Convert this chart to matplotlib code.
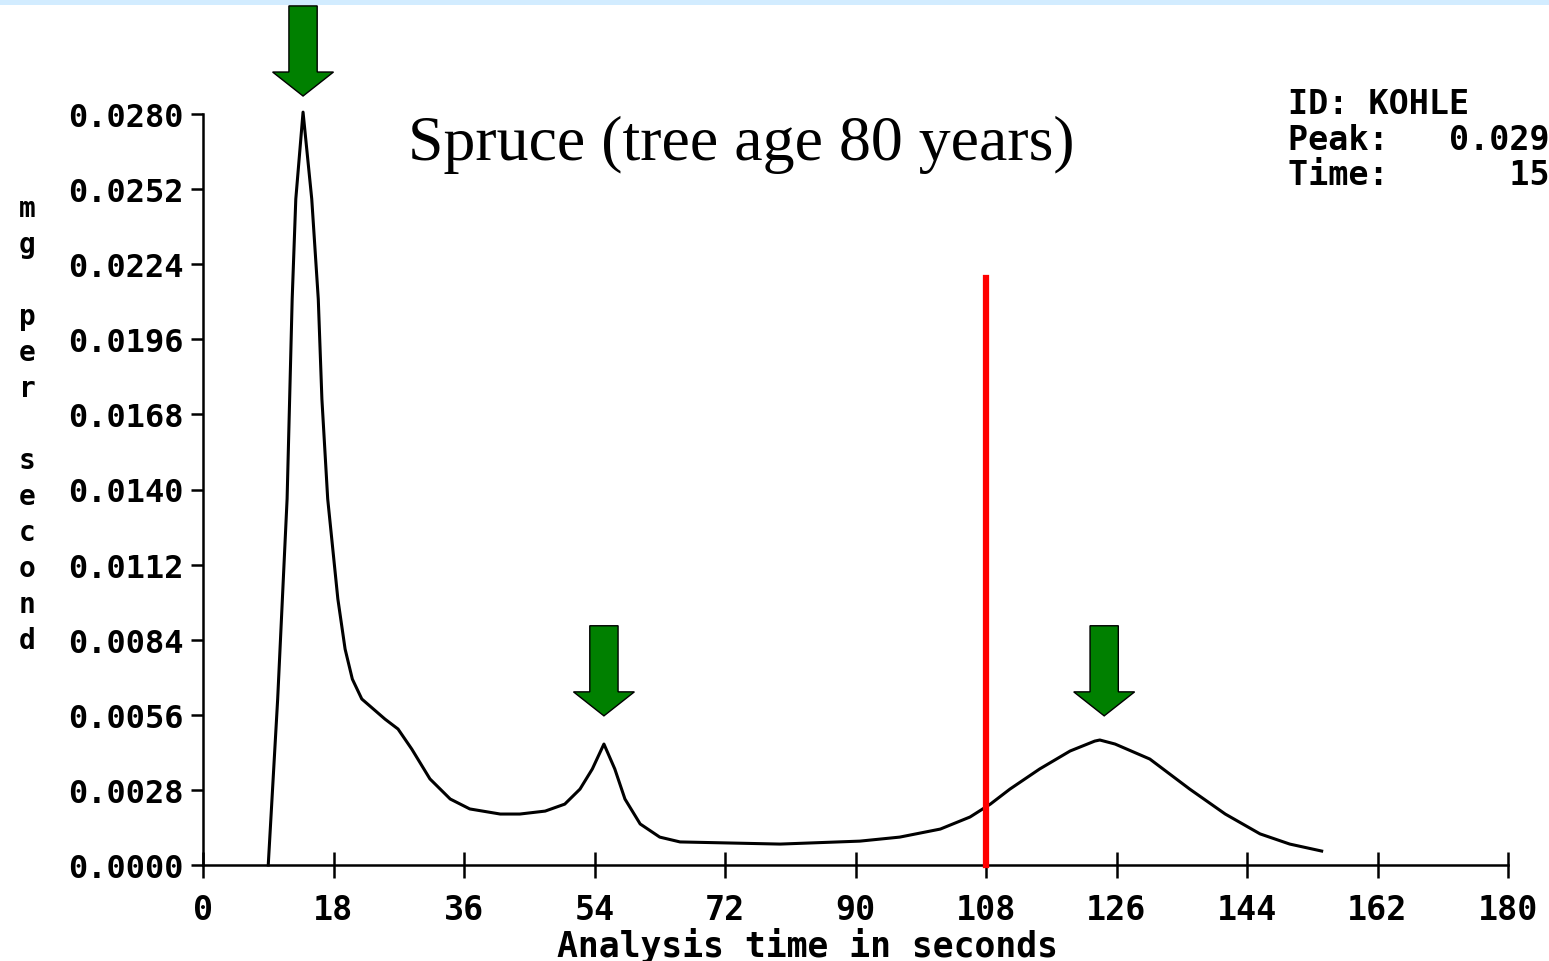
import matplotlib
matplotlib.use("Agg")
import matplotlib.pyplot as plt
from matplotlib.patches import Polygon, Rectangle

# Data
time_s = [9.0, 10.3, 11.6, 12.3, 12.8, 13.8, 15.0, 15.9, 16.4, 17.2, 18.6, 19.6,
          20.6, 21.9, 25.1, 26.9, 28.8, 31.3, 34.1, 36.8, 41.0, 43.7, 47.2, 49.9,
          52.0, 53.7, 55.3, 56.8, 58.2, 60.3, 63.0, 65.8, 79.6, 90.6, 96.1, 101.7,
          105.8, 108.6, 111.3, 115.4, 119.6, 123.0, 123.7, 125.8, 130.6, 136.1,
          141.0, 145.8, 149.9, 154.3]
mg_per_s = [0.0, 0.00619, 0.01365, 0.0211, 0.02483, 0.02807, 0.02483, 0.0211,
            0.01737, 0.01365, 0.00992, 0.00805, 0.00693, 0.00619, 0.00544, 0.00507,
            0.00432, 0.00321, 0.00246, 0.00209, 0.0019, 0.0019, 0.00201, 0.00227,
            0.00283, 0.00358, 0.00451, 0.00358, 0.00246, 0.00153, 0.00104, 0.00086,
            0.00078, 0.00089, 0.00104, 0.00134, 0.00179, 0.00227, 0.00283, 0.00358,
            0.00425, 0.00462, 0.00466, 0.00451, 0.00395, 0.00283, 0.0019, 0.00116,
            0.00078, 0.00052]

x_ticks = [0, 18, 36, 54, 72, 90, 108, 126, 144, 162, 180]
y_ticks = [0.0000, 0.0028, 0.0056, 0.0084, 0.0112, 0.0140, 0.0168, 0.0196,
           0.0224, 0.0252, 0.0280]
y_tick_labels = ["%.4f" % v for v in y_ticks]

# marker positions (peaks pointed at) and red cut line
arrow_x = [13.8, 55.3, 124.3]
arrow_tip = [0.02867, 0.00556, 0.00556]
cut_time = 108
cut_top = 0.0219

title = "Spruce (tree age 80 years)"
info_text = "ID: KOHLE\nPeak:   0.029\nTime:      15"

mono = "DejaVu Sans Mono"

fig = plt.figure(figsize=(15.49, 9.62), dpi=100)
fig.patches.append(Rectangle((0, 1 - 6 / 962), 1, 6 / 962, transform=fig.transFigure,
                             facecolor="#d2ecff", edgecolor="none"))

ax = fig.add_axes([203 / 1549, 96 / 962, 1305 / 1549, 751 / 962])
ax.plot(time_s, mg_per_s, color="black", lw=2.2, clip_on=False)
ax.plot([cut_time, cut_time], [0, cut_top], color="#ff0000", lw=4.5, clip_on=False, zorder=3)

ax.set_xlim(0, 180)
ax.set_ylim(0, 0.028)

for sp in ["top", "right"]:
    ax.spines[sp].set_visible(False)
for sp in ["left", "bottom"]:
    ax.spines[sp].set_linewidth(1.8)

ax.set_xticks(x_ticks)
ax.set_xticklabels([str(t) for t in x_ticks], fontfamily=mono, fontweight="bold", fontsize=24)
ax.set_yticks(y_ticks)
ax.set_yticklabels(y_tick_labels, fontfamily=mono, fontweight="bold", fontsize=23)
ax.tick_params(axis="x", direction="inout", length=19, width=1.8, pad=11)
ax.tick_params(axis="y", direction="out", length=9, width=1.8, pad=5)

ax.set_xlabel("Analysis time in seconds", fontfamily=mono, fontweight="bold", fontsize=25)
ax.xaxis.set_label_coords(0.463, -0.082)

# green arrows
hs, hh = 1.95, 4.2
head_h, total = 0.000895, 0.00336
for xc, tip in zip(arrow_x, arrow_tip):
    pts = [(xc - hs, tip + total), (xc + hs, tip + total), (xc + hs, tip + head_h),
           (xc + hh, tip + head_h), (xc, tip), (xc - hh, tip + head_h),
           (xc - hs, tip + head_h)]
    ax.add_patch(Polygon(pts, closed=True, facecolor="#008000", edgecolor="black",
                         lw=1.0, clip_on=False, zorder=4))

fig.text(27 / 1549, 1 - 425 / 962, "m\ng\n\np\ne\nr\n\ns\ne\nc\no\nn\nd",
         fontfamily=mono, fontweight="bold", fontsize=20, ha="center", va="center",
         linespacing=1.36)

fig.text(408 / 1549, 1 - 160 / 962, title, fontfamily="Liberation Serif", fontsize=46,
         ha="left", va="baseline")

fig.text(1288 / 1549, 1 - 88 / 962, info_text, fontfamily=mono, fontweight="bold",
         fontsize=24, ha="left", va="top", linespacing=1.1)

fig.savefig("out.png", dpi=100)
